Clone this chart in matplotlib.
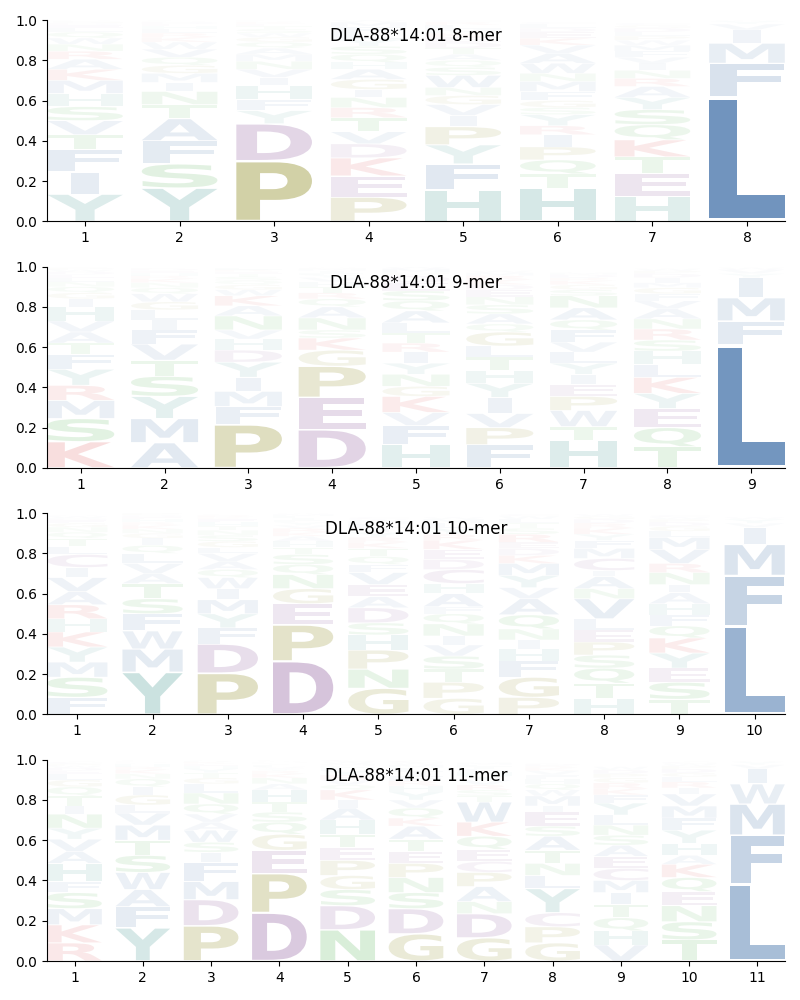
# Sequence logos for DLA-88*14:01 peptides (8-11-mers)
import matplotlib
matplotlib.use('Agg')
import matplotlib.pyplot as plt
from matplotlib.textpath import TextPath
from matplotlib.patches import PathPatch
from matplotlib.font_manager import FontProperties
from matplotlib.transforms import Affine2D

# Letter frequencies (percent) per position, stacked bottom -> top
logo_8mer = [
    "Y13.5 I11 F11 T7.5 V7 S7 H6.5 M6.5 K5.5 A5 R4 N3.5 W3 Q3 L2 E1.5 D1 G1 P0.5",
    "Y16.5 S12 F11.5 A11 T7 N6.5 I4.5 M4.5 G4 Q4 V4 W3.5 K2.5 R2 L2 H1.5 E1 D1 P0.5 C0.5",
    "P30 D18.5 Y6.5 F5.5 H7 I4 V4 N4 M3.5 A3 Q3 G2.5 W2 S2 T1.5 E1 K1 R0.5 L0.5 C0.5",
    "P12 E10.5 K9 D7 V6 T7 R5 N5 I4 G5 A5 H3.5 Q4 S4 Y3.5 L3 F3 M2.5 W1 C0.5",
    "H15.5 F13 Y9.5 P9 I5.5 V5.5 G4.5 N4 W6 S4 Q3.5 A3 T3 D3 E2.5 K2 M2 L2 R1.5 C1",
    "H16.5 T7 Q7 P6.5 I6 R4.5 Y5.5 S3.5 G3.5 F4.5 M5 N4 W5 A5 V4 K3.5 E3 D2 L2 C1",
    "H12.5 E11.5 T8 K8.5 Q7.5 S7.5 Y6 A5.5 R4 N4 I3.5 V3 F3 M3 W2.5 P2 L2 D2 G1.5 C1",
    "L62 F16.5 M10 I6.5 V3 Y1.5 W0.5",
]
logo_9mer = [
    "K13 S11.5 M9 R7.5 Y8 F7.5 T5.5 A5.5 V5.5 H7 I4 G3 Q3 N2.5 L2 E1.5 D1.5 W1 P1 C0.5",
    "A12.5 M12 Y11 S10 T8 V8 F7 I5 L5 G4 W4 Q3 N2.5 K2 R1.5 H1.5 E1 D1 P0.5 C0.5",
    "P21.5 F9 M7.5 I7 Y7.5 D6 H5.5 V4.5 N7 A5 K5 W3 G2.5 Q2 S2 T1.5 E1 R1 L1 C0.5",
    "D19 E16 P15.5 G8 K6 S4 N6 A5.5 Q4 R3 T3 H2.5 V2 Y1.5 F1 I1 M1 L0.5 W0.5 C0.5",
    "H11.5 F9.5 V6.5 K8 G5 N6 Y5.5 I5.5 R4.5 T5 L5 A6 Q5 S5 E4 D3.5 P1.5 M2 W1 C0.5",
    "F11.5 P8.5 V7 I8 Y7 H6.5 T6.5 L5.5 G7 Q4 A5 S4.5 N4 E3.5 D2.5 K2.5 R2 M1.5 W1 C0.5",
    "H13.5 T7 W8 P7 E6 I5 Y5.5 L5.5 V5 F6 Q5 A6 N6 S3 G2.5 K2 R1.5 D1.5 M1 C0.5",
    "T10.5 Q9.5 E9.5 Y7.5 K8 L6.5 H6.5 S5.5 R5.5 N5 A5 V4 F3.5 G3 M2.5 I2.5 D2 P1.5 W1 C0.5",
    "L61 F12 M11.5 I10 Y2 V2 W1",
]
logo_10mer = [
    "F8.5 S10 M7.5 Y7.5 K7.5 H6.5 R7 A6.5 V7 I5 C6.5 L4 T4 Q3 N2.5 G2 E1.5 D1 W1 P0.5",
    "Y21 M11.5 W9 F8.5 S7.5 T7.5 A5 V5 L5 Q4 I3.5 G2.5 N2 K2 R1.5 H1.5 E1 D1 P1 C0.5",
    "P20.5 D14.5 F8 Y7 M7 I5.5 W5.5 Q4 A4 V4 L3 G3 S3 N2.5 T2 H2 E1.5 K1 R1 C0.5",
    "D26.5 P18 E10.5 G7.5 N7 Q5 S5 T3.5 H3 A2.5 K2 R2 V1.5 Y1.5 F1 I1 L1 M1 W0.5 C0.5",
    "G13 N9.5 P9.5 H7.5 S6 D7.5 A5.5 E6 V6 F4 Q4 T4 K3 R2.5 Y2.5 I2 L2 M1.5 W1 C1",
    "G8 P8 T6.5 S6.5 V5.5 I4.5 N6 Q5 F3.5 A6.5 H5 C7 D5 E5 K4.5 R3 Y3 L2.5 M2 W1",
    "P8.5 G10 F8 H6 I4.5 N5.5 Q7 A8 V5.5 Y6 M6 K4 D3.5 E3 R4 S3 T2.5 L2 W1.5 C1",
    "H8 T7.5 Q7.5 S6.5 P6.5 E6 L5.5 V10 N5 A6 I3 C6 M5 F4 Y3 K3 R2.5 D2 G1.5 W1",
    "T7.5 S8.5 E7 Y7.5 K7.5 Q6 F5.5 H5.5 A5.5 I4 N6 R4.5 V7 M6 L3 G2.5 D2 P1.5 W1 C1",
    "L44 F25 M15.5 I8.5 V2 Y2 W1",
]
logo_11mer = [
    "R9 K9 M8 S8 F5.5 H9 A6 V6 Y5.5 N7 I4 T5 Q4.5 G3.5 L3 E1.5 D1.5 W1 P1 C1",
    "Y16.5 F10.5 A8.5 W8.5 S8.5 T7.5 M7.5 V6 L4 G5 I4 Q4 N2.5 K2 R1.5 H1.5 E0.5 D0.5 P0.5 C0.5",
    "P17.5 D13 M9 F9.5 I5 S5 W6 A4 V4 Q5 N5.5 L4.5 G3 T2.5 Y2 H1.5 E1 K1 R0.5 C0.5",
    "D24 P19.5 E11.5 G8 Q6 S5 T5 H6 A3 N3 K2 R1.5 Y1 V1 F1 I0.5 L0.5 M0.5 W0.5 C0.5",
    "N15.5 D12 S8 G7 P7.5 E6.5 T6.5 H7 A6 I4 K5 Q2.5 V2.5 R2.5 Y2 F1.5 L1 M1 W1 C1",
    "G13.5 D12.5 S8 N7.5 P7 E6 T6 A6.5 K4 Q5 V4 Y4 H3 R2.5 F2.5 I2 L2 M1.5 W1 C1",
    "G11.5 D12 N6 A7.5 P7 C5.5 E6 Q6.5 K7 W10 T3 S3 R2.5 V2.5 Y2 H2 F1.5 I1 L1 M1",
    "G9 P8 C7 Y12 L6.5 N6 T6.5 A7 S5 E7 I3 M5 W3 Q3 H2.5 F2 V2 K1.5 R1 D1",
    "V8 H7 Q6.5 T6.5 I6 M6 C6 E6 A5.5 S5 N5 L5 Y6 F4 K3 R3 G2.5 P2 D2 W1.5",
    "T10.5 S9 N8 E7 Q7 K6.5 A4.5 H6 Y6.5 F6 M6 V6 I3 R3 L2.5 G2 D2 P1.5 W1 C1",
    "L38 F24.5 M15.5 W10 I7.5 V2 Y1.5 A0.5",
]

titles = ["DLA-88*14:01 8-mer", "DLA-88*14:01 9-mer",
          "DLA-88*14:01 10-mer", "DLA-88*14:01 11-mer"]

# colour groups
colours = {}
for aa in "AVLIFMW":
    colours[aa] = '#386aa4'
for aa in "HY":
    colours[aa] = '#2a8a80'
for aa in "PG":
    colours[aa] = '#7e7a00'
for aa in "DEC":
    colours[aa] = '#7b3f8c'
for aa in "KR":
    colours[aa] = '#d62728'
for aa in "STNQ":
    colours[aa] = '#2ca02c'

font = FontProperties(family='DejaVu Sans', weight='bold')
e_width = TextPath((0, 0), 'E', size=1, prop=font).get_extents().width


def parse(column):
    out = []
    for tok in column.split():
        out.append((tok[0], float(tok[1:]) / 100))
    return out


def draw_letter(ax, letter, x, y0, h, width=0.8, vpad=0.05):
    tp = TextPath((0, 0), letter, size=1, prop=font)
    bb = tp.get_extents()
    # don't stretch narrow letters wider than an E
    sx = width / max(bb.width, e_width)
    sy = h * (1 - vpad) / bb.height
    left = x - bb.width * sx / 2
    tr = Affine2D().translate(-bb.x0, -bb.y0).scale(sx, sy).translate(left, y0 + h * vpad / 2)
    alpha = min(1.0, 1.15 * h)
    ax.add_patch(PathPatch(tr.transform_path(tp), facecolor=colours[letter],
                           alpha=alpha, edgecolor='none', lw=0))


fig, axes = plt.subplots(4, 1, figsize=(8, 10))
plt.subplots_adjust(left=0.059, right=0.981, top=0.98, bottom=0.039, hspace=0.225)

for ax, logo, title in zip(axes, [logo_8mer, logo_9mer, logo_10mer, logo_11mer], titles):
    n = len(logo)
    for i, column in enumerate(logo):
        y = 0.0
        for letter, p in parse(column):
            draw_letter(ax, letter, i + 1, y, p)
            y += p
    ax.set_xlim(0.6, n + 0.4)
    ax.set_ylim(0, 1)
    ax.set_xticks(range(1, n + 1))
    ax.set_yticks([0, 0.2, 0.4, 0.6, 0.8, 1.0])
    ax.spines['top'].set_visible(False)
    ax.spines['right'].set_visible(False)
    ax.text(0.5, 0.92, title, transform=ax.transAxes, ha='center', va='center', fontsize=12)

plt.savefig('out.png', dpi=100)
